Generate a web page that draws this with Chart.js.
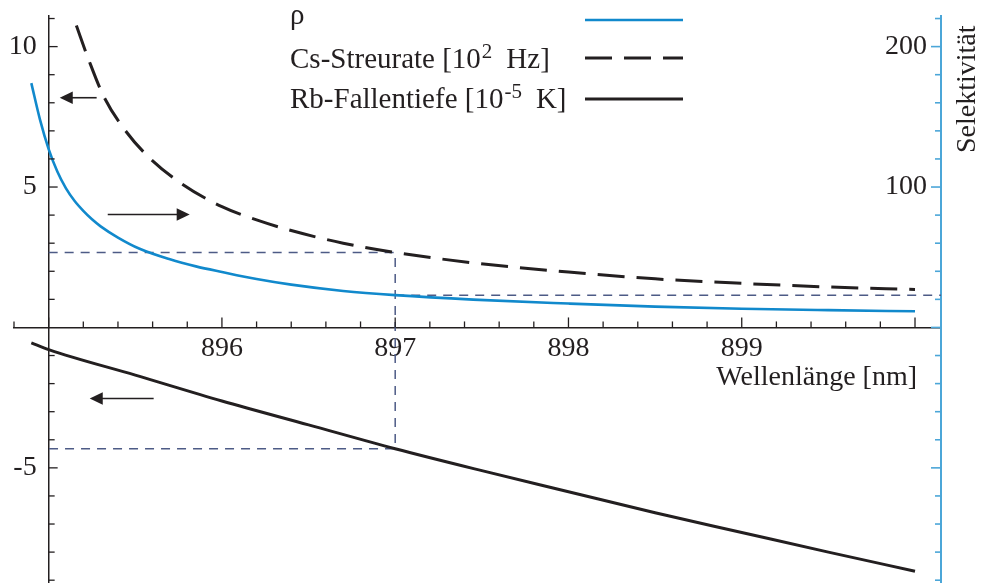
<!DOCTYPE html>
<html>
<head>
<meta charset="utf-8">
<script src="https://cdn.jsdelivr.net/npm/chart.js@4.4.0/dist/chart.umd.min.js"></script>
<style>
body { margin: 0; background: #fff; }
#wrap { width: 981px; height: 583px; position: relative; }
</style>
</head>
<body>
<div id="wrap"><canvas id="chart"></canvas></div>
<script>
// values, wavelength in nm
var rhoLambda = [894.9, 894.95, 895.0, 895.05, 895.1, 895.15, 895.2, 895.25, 895.3, 895.4, 895.525, 895.7, 895.85, 896.0, 896.2, 896.4, 896.7, 897.0, 897.45, 898.0, 898.5, 899.0, 899.5, 900.0];
var rhoValues = [174, 148, 127, 111, 99, 90, 83, 77, 72, 64, 56, 48.5, 43.5, 39.5, 34.5, 30.5, 26, 23, 19.8, 17.0, 14.8, 13.3, 12.3, 11.5];

var csLambda = [895.16, 895.23, 895.32, 895.45, 895.58, 895.76, 896.0, 896.2, 896.4, 896.7, 897.0, 897.45, 898.0, 898.5, 899.0, 899.5, 900.0];
var csValues = [10.75, 9.55, 8.2, 6.95, 6.05, 5.15, 4.3, 3.83, 3.45, 3.0, 2.67, 2.3, 1.97, 1.73, 1.57, 1.44, 1.35];

var rbLambda = [894.9, 895.0, 895.5, 896.0, 896.5, 897.0, 897.5, 898.0, 898.5, 899.0, 899.5, 900.0];
var rbValues = [-0.55, -0.79, -1.7, -2.62, -3.47, -4.32, -5.1, -5.85, -6.6, -7.3, -8.0, -8.68];

// dashed read-off lines at 897 nm
var guideLambda = [895, 897, 897, 895];
var guideValues = [2.67, 2.67, -4.32, -4.32];
var guideRightLambda = [897, 900.15];
var guideRightValues = [23, 23];

// arrows telling which axis a curve belongs to
var arrowTail = [895.277, 895.341, 895.606];
var arrowTip = [895.064, 895.814, 895.237];
var arrowLevel = [8.18, 4.02, -2.53];

// tick labels
var xLabels = [896, 897, 898, 899];
var leftLabels = [10, 5, -5];
var rightLabels = [200, 100];

// legend
var legendMain = ['\u03c1', 'Cs-Streurate [10', 'Rb-Fallentiefe [10'];
var legendSup = ['', '2', '-5'];
var legendTail = ['', 'Hz]', 'K]'];

var ink = '#231f20';
var blue = '#1189cc';
var axisBlue = '#4ba6d8';
var guideColor = '#4d5b86';
var serif = '"Liberation Serif", "Times New Roman", serif';

function pts(xs, ys) {
    return xs.map(function(v, i) { return {x: v, y: ys[i]}; });
}

function zeroPad(scale) {
    scale.paddingTop = 0;
    scale.paddingBottom = 0;
    scale.paddingLeft = 0;
    scale.paddingRight = 0;
}

function line(ctx, x1, y1, x2, y2) {
    ctx.beginPath();
    ctx.moveTo(x1, y1);
    ctx.lineTo(x2, y2);
    ctx.stroke();
}

var decor = {
    id: 'decor',
    afterDraw: function(chart) {
        var ctx = chart.ctx;
        var sx = chart.scales.x, sy = chart.scales.y, sr = chart.scales.y2;
        var x0 = sx.getPixelForValue(895);
        var y0 = sy.getPixelForValue(0);
        var xr = sx.getPixelForValue(900.15);
        ctx.save();

        // tick marks, all pointing into the plot
        ctx.lineWidth = 1.3;
        ctx.strokeStyle = ink;
        sx.ticks.forEach(function(t) {
            var px = sx.getPixelForValue(t.value);
            var major = Math.abs(t.value - Math.round(t.value)) < 1e-6;
            line(ctx, px, y0, px, y0 - (major ? 10 : 6));
        });
        sy.ticks.forEach(function(t) {
            if (t.value === 0) return;
            var py = sy.getPixelForValue(t.value);
            line(ctx, x0, py, x0 + (t.value % 5 === 0 ? 9 : 6), py);
        });
        ctx.strokeStyle = axisBlue;
        ctx.lineWidth = 1.6;
        sr.ticks.forEach(function(t) {
            var py = sr.getPixelForValue(t.value);
            line(ctx, xr, py, xr - (t.value % 100 === 0 ? 10 : 6), py);
        });

        // y tick labels, left of each axis line
        ctx.fillStyle = ink;
        ctx.font = '28px ' + serif;
        ctx.textAlign = 'right';
        ctx.textBaseline = 'middle';
        sy.ticks.forEach(function(t) {
            if (leftLabels.indexOf(t.value) >= 0) ctx.fillText(String(t.value), x0 - 12, sy.getPixelForValue(t.value));
        });
        sr.ticks.forEach(function(t) {
            if (rightLabels.indexOf(t.value) >= 0) ctx.fillText(String(t.value), xr - 14, sr.getPixelForValue(t.value));
        });

        // arrows
        ctx.strokeStyle = ink;
        ctx.fillStyle = ink;
        ctx.lineWidth = 1.6;
        for (var i = 0; i < arrowTip.length; i++) {
            var a = sx.getPixelForValue(arrowTail[i]);
            var b = sx.getPixelForValue(arrowTip[i]);
            var ay = sy.getPixelForValue(arrowLevel[i]);
            var dir = b > a ? 1 : -1;
            line(ctx, a, ay, b - dir * 12, ay);
            ctx.beginPath();
            ctx.moveTo(b, ay);
            ctx.lineTo(b - dir * 13, ay - 6.3);
            ctx.lineTo(b - dir * 13, ay + 6.3);
            ctx.closePath();
            ctx.fill();
        }

        // axis titles
        ctx.fillStyle = ink;
        ctx.font = '28px ' + serif;
        ctx.textBaseline = 'alphabetic';
        ctx.textAlign = 'right';
        ctx.fillText('Wellenl\u00e4nge [nm]', 917, 385);
        ctx.save();
        ctx.translate(975, 153);
        ctx.rotate(-Math.PI / 2);
        ctx.textAlign = 'left';
        ctx.fillText('Selektivit\u00e4t', 0, 0);
        ctx.restore();

        // legend
        var base = [24, 68, 108];
        var sampleY = [20, 58, 99];
        ctx.textAlign = 'left';
        for (var j = 0; j < legendMain.length; j++) {
            var lx = 290;
            ctx.font = '29px ' + serif;
            ctx.fillText(legendMain[j], lx, base[j]);
            var w = ctx.measureText(legendMain[j]).width;
            if (legendSup[j]) {
                ctx.font = '21px ' + serif;
                ctx.fillText(legendSup[j], lx + w + 1, base[j] - 10);
                w += 1 + ctx.measureText(legendSup[j]).width + 14;
                ctx.font = '29px ' + serif;
                ctx.fillText(legendTail[j], lx + w, base[j]);
            }
        }
        ctx.lineWidth = 2.6;
        ctx.strokeStyle = blue;
        line(ctx, 585, sampleY[0], 683, sampleY[0]);
        ctx.strokeStyle = ink;
        ctx.lineWidth = 3;
        ctx.setLineDash([27, 12]);
        line(ctx, 585, sampleY[1], 683, sampleY[1]);
        ctx.setLineDash([]);
        line(ctx, 585, sampleY[2], 683, sampleY[2]);

        ctx.restore();
    }
};

var tickFont = { family: serif, size: 28 };

new Chart(document.getElementById('chart'), {
    type: 'line',
    data: {
        datasets: [{
            label: 'rho',
            data: pts(rhoLambda, rhoValues),
            yAxisID: 'y2',
            borderColor: blue,
            borderWidth: 2.6,
            pointRadius: 0,
            cubicInterpolationMode: 'monotone'
        }, {
            label: 'Cs-Streurate',
            data: pts(csLambda, csValues),
            yAxisID: 'y',
            borderColor: ink,
            borderWidth: 3,
            borderDash: [27, 12],
            pointRadius: 0,
            cubicInterpolationMode: 'monotone'
        }, {
            label: 'Rb-Fallentiefe',
            data: pts(rbLambda, rbValues),
            yAxisID: 'y',
            borderColor: ink,
            borderWidth: 3,
            pointRadius: 0,
            cubicInterpolationMode: 'monotone'
        }, {
            label: 'guide',
            data: pts(guideLambda, guideValues),
            yAxisID: 'y',
            borderColor: guideColor,
            borderWidth: 1.5,
            borderDash: [9, 7],
            pointRadius: 0,
            tension: 0
        }, {
            label: 'guide right',
            data: pts(guideRightLambda, guideRightValues),
            yAxisID: 'y2',
            borderColor: guideColor,
            borderWidth: 1.5,
            borderDash: [9, 7],
            pointRadius: 0,
            tension: 0
        }]
    },
    options: {
        responsive: true,
        maintainAspectRatio: false,
        animation: false,
        events: [],
        layout: { padding: { left: 14, right: 40, top: 16, bottom: 0 } },
        plugins: { legend: { display: false }, tooltip: { enabled: false } },
        scales: {
            x: {
                type: 'linear',
                min: 894.8,
                max: 900.15,
                position: { y: 0 },
                grid: { display: false, drawTicks: false },
                border: { color: ink, width: 1.5 },
                afterFit: zeroPad,
                ticks: {
                    stepSize: 0.2,
                    includeBounds: false,
                    autoSkip: false,
                    maxRotation: 0,
                    padding: 4,
                    color: ink,
                    font: tickFont,
                    callback: function(v) {
                        var r = Math.round(v);
                        return (Math.abs(v - r) < 1e-6 && xLabels.indexOf(r) >= 0) ? String(r) : '';
                    }
                }
            },
            y: {
                type: 'linear',
                axis: 'y',
                min: -9.1,
                max: 11.09,
                position: { x: 895 },
                grid: { display: false, drawTicks: false },
                border: { color: ink, width: 1.5 },
                afterFit: zeroPad,
                ticks: { stepSize: 1, includeBounds: false, autoSkip: false, display: false }
            },
            y2: {
                type: 'linear',
                axis: 'y',
                min: -182,
                max: 221.8,
                position: { x: 900.15 },
                grid: { display: false, drawTicks: false },
                border: { color: axisBlue, width: 2 },
                afterFit: zeroPad,
                ticks: { stepSize: 20, includeBounds: false, autoSkip: false, display: false }
            }
        }
    },
    plugins: [decor]
});
</script>
</body>
</html>
